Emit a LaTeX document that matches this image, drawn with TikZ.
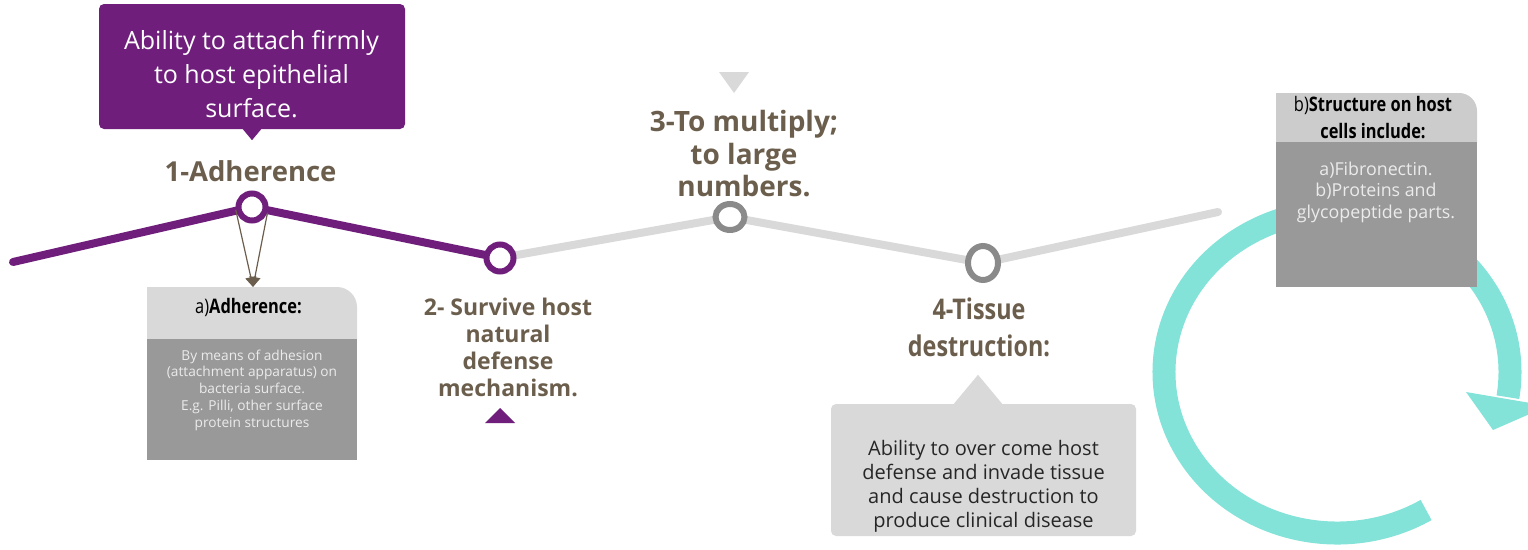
\documentclass[tikz,border=0pt]{standalone}
\usepackage{fontspec}
\setmainfont{Open Sans}
\newfontfamily\condfont{Open Sans}[FakeStretch=0.82]
\usetikzlibrary{shapes.geometric, positioning, arrows.meta, calc}

\definecolor{stagepurple}{HTML}{6F1E7B}
\definecolor{stagebrown}{HTML}{6B5E4C}
\definecolor{trackgray}{HTML}{D9D9D9}
\definecolor{ringgray}{HTML}{8A8A8A}
\definecolor{headgray}{HTML}{D9D9D9}
\definecolor{headgrayb}{HTML}{CCCCCC}
\definecolor{bodygray}{HTML}{999999}
\definecolor{paletext}{HTML}{EBEBEB}
\definecolor{cycleteal}{HTML}{84E3D8}

\begin{document}
\begin{tikzpicture}[x=1pt, y=-1pt,
		ring_node/.style={draw=stagepurple, line width=6pt, fill=white, circle, minimum size=27pt, inner sep=0pt},
		oval_node/.style={draw=ringgray, line width=6pt, fill=white, ellipse, inner sep=0pt},
		stage_label/.style={text=stagebrown, align=center, inner sep=0pt},
		head_text/.style={text=black, align=center, inner sep=0pt, font=\condfont\fontsize{20}{27}\selectfont},
		body_box/.style={fill=bodygray, rectangle, inner sep=0pt},
		body_text/.style={text=paletext, align=center, inner sep=0pt},
		track/.style={line width=8pt, line cap=round, line join=round},
		pointer/.style={-{Triangle[width=11pt, length=10pt]}, stagebrown, line width=1.2pt}
		]
		\useasboundingbox (0,0) rectangle (1528,549);
		\clip (0,0) rectangle (1528,549);
		
		% Timeline
		\coordinate (t0) at (13,262);
		\coordinate (t1) at (252,207);
		\coordinate (t2) at (500,258);
		\coordinate (t3) at (730,217);
		\coordinate (t4) at (983,263);
		\coordinate (t5) at (1218,212);
		\draw[track, trackgray] (t2) -- (t3) -- (t4) -- (t5);
		\draw[track, stagepurple] (t0) -- (t1) -- (t2);
		\node[ring_node] (n1) at (t1) {};
		\node[ring_node] (n2) at (t2) {};
		\node[oval_node, minimum width=29pt, minimum height=26pt] (n3) at (t3) {};
		\node[oval_node, minimum width=30pt, minimum height=34pt] (n4) at (t4) {};
		
		% Stage 1
		\node[fill=stagepurple, rounded corners=5pt, minimum width=306pt, minimum height=125pt] (call1) at (252,66.5) {};
		\fill[stagepurple] ([xshift=-10pt, yshift=1pt]call1.south) -- ([xshift=10pt, yshift=1pt]call1.south) -- ([yshift=-11pt]call1.south) -- cycle;
		\node[text=white, align=center, inner sep=0pt, font=\fontsize{25}{34}\selectfont] (call1txt) at (251.5,74.5) {Ability to attach firmly\\to host epithelial\\surface.};
		\node[stage_label, font=\bfseries\fontsize{27.5}{32}\selectfont] (lab1) at (250.5,171.5) {1-Adherence};
		
		\coordinate (adhtip) at (253,287);
		\draw[pointer] (n1.190) -- (adhtip);
		\draw[pointer] (n1.-20) -- (adhtip);
		
		\fill[headgray] (147,339) -- (147,287) -- (337,287) .. controls (348,287) and (357,296) .. (357,307) -- (357,339) -- cycle;
		\node[body_box, minimum width=210pt, minimum height=121pt] (adhbody) at (252,399.5) {};
		\node[head_text] (adhhead) at (248.5,307.5) {a)\textbf{Adherence:}};
		\node[body_text, font=\fontsize{13.7}{16.75}\selectfont] (adhtext) at (252,390) {By means of adhesion\\(attachment apparatus) on\\bacteria surface.\\E.g. Pilli, other surface\\protein structures};
		
		% Stage 2
		\node[stage_label, font=\bfseries\fontsize{23}{27}\selectfont] (lab2) at (508,347) {2- Survive host\\natural\\defense\\mechanism.};
		\fill[stagepurple] (485,423) -- (515,423) -- (500,408) -- cycle;
		
		% Stage 3
		\fill[trackgray] (719,72) -- (749,72) -- (734,93) -- cycle;
		\node[stage_label, font=\bfseries\fontsize{28}{32.5}\selectfont] (lab3) at (744,154) {3-To multiply;\\to large\\numbers.};
		
		% Stage 4
		\node[stage_label, font=\condfont\bfseries\fontsize{28.5}{37}\selectfont] (lab4) at (979,327.6) {4-Tissue\\destruction:};
		\node[fill=headgray, rounded corners=5pt, minimum width=305pt, minimum height=132pt] (call4) at (983.5,470) {};
		\fill[headgray] ([xshift=-30.5pt, yshift=-1pt]call4.north) -- ([xshift=19.5pt, yshift=-1pt]call4.north) -- ([xshift=-5.5pt, yshift=29pt]call4.north) -- cycle;
		\node[text=black!85, align=center, inner sep=0pt, font=\fontsize{20}{24}\selectfont] (call4txt) at (983.5,486) {Ability to over come host\\defense and invade tissue\\and cause destruction to\\produce clinical disease};
		
		% Host cell cycle
		\coordinate (tealc) at (1337,372);
		\draw[cycleteal, line width=23pt] (tealc) ++(59:173 and 161) arc[start angle=59, end angle=369, x radius=173, y radius=161];
		\fill[cycleteal] ($(tealc)+(129,20)$) -- ($(tealc)+(211,34)$) -- ($(tealc)+(156,58)$) -- cycle;
		
		\fill[headgrayb] (1276,142) -- (1276,93) -- (1459,93) .. controls (1469,93) and (1477,101) .. (1477,111) -- (1477,142) -- cycle;
		\node[body_box, minimum width=201pt, minimum height=145pt] (hostbody) at (1376.5,214.5) {};
		\node[head_text] (hosthead) at (1373,118) {b)\textbf{Structure on host}\\\textbf{cells include:}};
		\node[body_text, font=\fontsize{17.8}{21.5}\selectfont] (hosttext) at (1376,192) {a)Fibronectin.\\b)Proteins and\\glycopeptide parts.};
	\end{tikzpicture}
\end{document}
